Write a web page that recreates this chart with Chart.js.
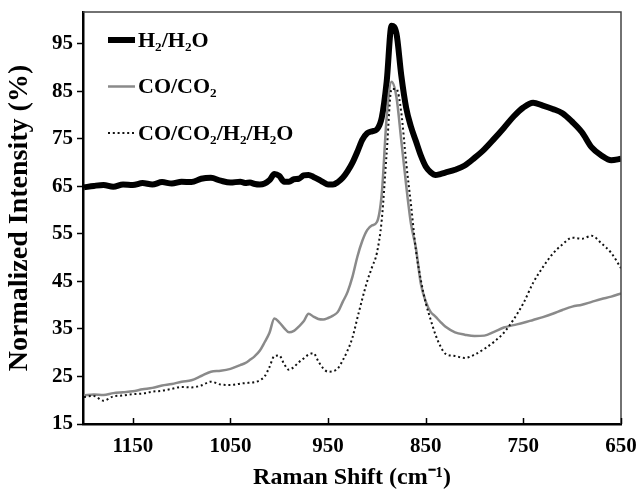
<!DOCTYPE html>
<html>
<head>
<meta charset="utf-8">
<script src="https://cdn.jsdelivr.net/npm/chart.js@4"></script>
<style>
  html, body { margin: 0; padding: 0; background: #fff; }
</style>
</head>
<body>
<canvas id="chart-raman" width="637" height="496"></canvas>
<script>
// Raman shift (cm-1), descending
const shift = [1200, 1190, 1180, 1170, 1160, 1150, 1140, 1130, 1120, 1110, 1100, 1090, 1080, 1070, 1060, 1050, 1040,
    1035, 1030, 1025, 1020, 1015, 1010, 1005, 1000, 995, 990,
    985, 980, 975, 970, 965, 960, 955, 950, 945, 940,
    935, 930, 925, 920, 915, 910, 905, 900, 895, 890,
    885, 880, 875, 870, 865, 860, 855, 850, 845, 840,
    835, 830,
    820, 810, 800, 790, 780, 770, 760, 750, 740, 730,
    720, 710, 700, 690, 680, 670, 660, 650];

// normalized intensity (%) for each atmosphere
const h2Series = [64.8, 65.1, 65.3, 64.9, 65.4, 65.3, 65.7, 65.4, 65.9, 65.6, 66.0, 65.9, 66.6, 66.8, 66.2, 65.8, 66.0,
    65.7, 65.8, 65.5, 65.4, 65.6, 66.3, 67.6, 67.2, 66.0, 66.0,
    66.5, 66.6, 67.3, 67.4, 67.0, 66.5, 65.9, 65.4, 65.4, 65.9,
    66.8, 68.2, 70.0, 72.3, 74.8, 76.2, 76.6, 77.0, 79.5, 87.0,
    98.8, 97.2, 88.3, 81.5, 77.5, 74.5, 71.5, 69.2, 68.0, 67.4,
    67.6, 67.9,
    68.5, 69.4, 71.0, 72.8, 75.0, 77.3, 79.7, 81.6, 82.6, 82.0,
    81.3, 80.4, 78.6, 76.4, 73.2, 71.5, 70.5, 70.8];

const coSeries = [21.0, 21.2, 21.1, 21.5, 21.7, 21.9, 22.3, 22.6, 23.1, 23.4, 23.9, 24.2, 25.1, 26.0, 26.2, 26.6, 27.4,
    27.8, 28.5, 29.3, 30.4, 32.2, 34.2, 37.2, 36.4, 35.2, 34.3,
    34.6, 35.5, 36.6, 38.2, 37.6, 37.1, 37.0, 37.3, 37.8, 38.6,
    40.7, 42.8, 46.0, 50.2, 53.5, 55.8, 56.8, 57.5, 63.5, 79.5,
    87.0, 83.8, 74.6, 65.2, 57.0, 52.0, 44.5, 40.8, 38.6, 37.6,
    36.5, 35.5,
    34.3, 33.8, 33.5, 33.6, 34.4, 35.3, 35.8, 36.3, 36.9, 37.5,
    38.2, 39.0, 39.7, 40.1, 40.7, 41.3, 41.8, 42.5];

const mixSeries = [20.7, 20.9, 19.9, 20.8, 21.0, 21.3, 21.4, 21.8, 22.0, 22.4, 22.8, 22.7, 23.1, 23.9, 23.3, 23.2, 23.5,
    23.6, 23.7, 23.8, 24.2, 25.0, 27.0, 29.3, 29.4, 27.6, 26.4,
    27.0, 28.0, 28.8, 29.6, 29.9, 28.2, 26.7, 26.0, 26.1, 26.7,
    28.4, 30.5, 33.2, 37.3, 41.3, 45.0, 48.0, 51.0, 58.0, 72.0,
    85.5, 85.5, 80.5, 70.0, 61.0, 51.5, 45.3, 40.5, 37.0, 33.8,
    31.4, 29.8,
    29.3, 28.9, 29.6, 30.8, 32.3, 34.2, 37.0, 40.4, 44.7, 48.0,
    50.8, 52.8, 54.2, 54.0, 54.6, 53.0, 51.0, 47.8];

const seriesNames = ['H₂/H₂O', 'CO/CO₂', 'CO/CO₂/H₂/H₂O'];
const xTicks = [1150, 1050, 950, 850, 750, 650];
const yTicks = [15, 25, 35, 45, 55, 65, 75, 85, 95];

const serif = '"Liberation Serif", "Times New Roman", serif';

function points(values) {
    return shift.map((x, i) => ({ x: x, y: values[i] }));
}

// box around the plot, inward x ticks and the legend in the top left corner
const frameAndLegend = {
    id: 'frameAndLegend',
    afterDatasetsDraw(chart) {
        const ctx = chart.ctx;
        const area = chart.chartArea;
        const xScale = chart.scales.x;

        ctx.save();
        ctx.strokeStyle = '#444';
        ctx.lineWidth = 1.5;
        ctx.beginPath();
        ctx.moveTo(area.left, area.top);
        ctx.lineTo(area.right, area.top);
        ctx.lineTo(area.right, area.bottom);
        ctx.stroke();

        ctx.strokeStyle = '#000';
        ctx.lineWidth = 1.5;
        xTicks.forEach(v => {
            const px = Math.round(xScale.getPixelForValue(v)) + 0.5;
            ctx.beginPath();
            ctx.moveTo(px, area.bottom);
            ctx.lineTo(px, area.bottom - 6);
            ctx.stroke();
        });

        ctx.font = 'bold 22px ' + serif;
        ctx.textBaseline = 'middle';
        ctx.fillStyle = '#000';
        chart.data.datasets.forEach((ds, i) => {
            const y = 40 + i * 46.5;
            ctx.strokeStyle = ds.borderColor;
            ctx.lineWidth = ds.borderWidth;
            ctx.setLineDash(ds.borderDash || []);
            ctx.beginPath();
            ctx.moveTo(108, y);
            ctx.lineTo(135, y);
            ctx.stroke();
            ctx.setLineDash([]);
            ctx.fillText(ds.label, 138, y + 1);
        });
        ctx.restore();
    }
};

const ctx = document.getElementById('chart-raman').getContext('2d');
const chart = new Chart(ctx, {
    type: 'line',
    data: {
        datasets: [{
            label: seriesNames[0],
            data: points(h2Series),
            borderColor: '#000',
            borderWidth: 6,
            order: 3
        }, {
            label: seriesNames[1],
            data: points(coSeries),
            borderColor: '#8a8a8a',
            borderWidth: 2.5,
            order: 2
        }, {
            label: seriesNames[2],
            data: points(mixSeries),
            borderColor: '#111',
            borderWidth: 2,
            borderDash: [2, 2.8],
            order: 1
        }]
    },
    options: {
        responsive: false,
        animation: false,
        devicePixelRatio: 1,
        layout: { padding: { top: 12, right: 16, left: 0, bottom: 0 } },
        elements: {
            point: { radius: 0 },
            line: { tension: 0.4, cubicInterpolationMode: 'monotone', fill: false }
        },
        scales: {
            x: {
                type: 'linear',
                reverse: true,
                min: 650,
                max: 1201,
                afterBuildTicks: scale => { scale.ticks = xTicks.map(v => ({ value: v })); },
                afterFit: scale => {
                    scale.height = 72;
                    scale.paddingLeft = 0;
                    scale.paddingRight = 0;
                },
                grid: { drawOnChartArea: false, drawTicks: false },
                border: { color: '#000', width: 2.5 },
                ticks: {
                    color: '#000',
                    padding: 10,
                    maxRotation: 0,
                    callback: value => String(value),
                    font: { family: serif, weight: 'bold', size: 21 }
                },
                title: {
                    display: true,
                    text: 'Raman Shift (cm⁻¹)',
                    color: '#000',
                    padding: { top: 0, bottom: 4 },
                    font: { family: serif, weight: 'bold', size: 24 }
                }
            },
            y: {
                min: 15,
                max: 101.7,
                afterBuildTicks: scale => { scale.ticks = yTicks.map(v => ({ value: v })); },
                afterFit: scale => {
                    scale.width = 83;
                    scale.paddingTop = 0;
                    scale.paddingBottom = 0;
                },
                grid: { drawOnChartArea: false, tickLength: 6, color: '#000', tickWidth: 1.5 },
                border: { color: '#000', width: 2.5 },
                ticks: {
                    color: '#000',
                    padding: 4,
                    callback: value => String(value),
                    font: { family: serif, weight: 'bold', size: 21 }
                },
                title: {
                    display: true,
                    text: 'Normalized Intensity (%)',
                    color: '#000',
                    padding: { top: 3, bottom: 0 },
                    font: { family: serif, weight: 'bold', size: 28 }
                }
            }
        },
        plugins: {
            legend: { display: false },
            tooltip: { enabled: false }
        }
    },
    plugins: [frameAndLegend]
});
</script>
</body>
</html>
